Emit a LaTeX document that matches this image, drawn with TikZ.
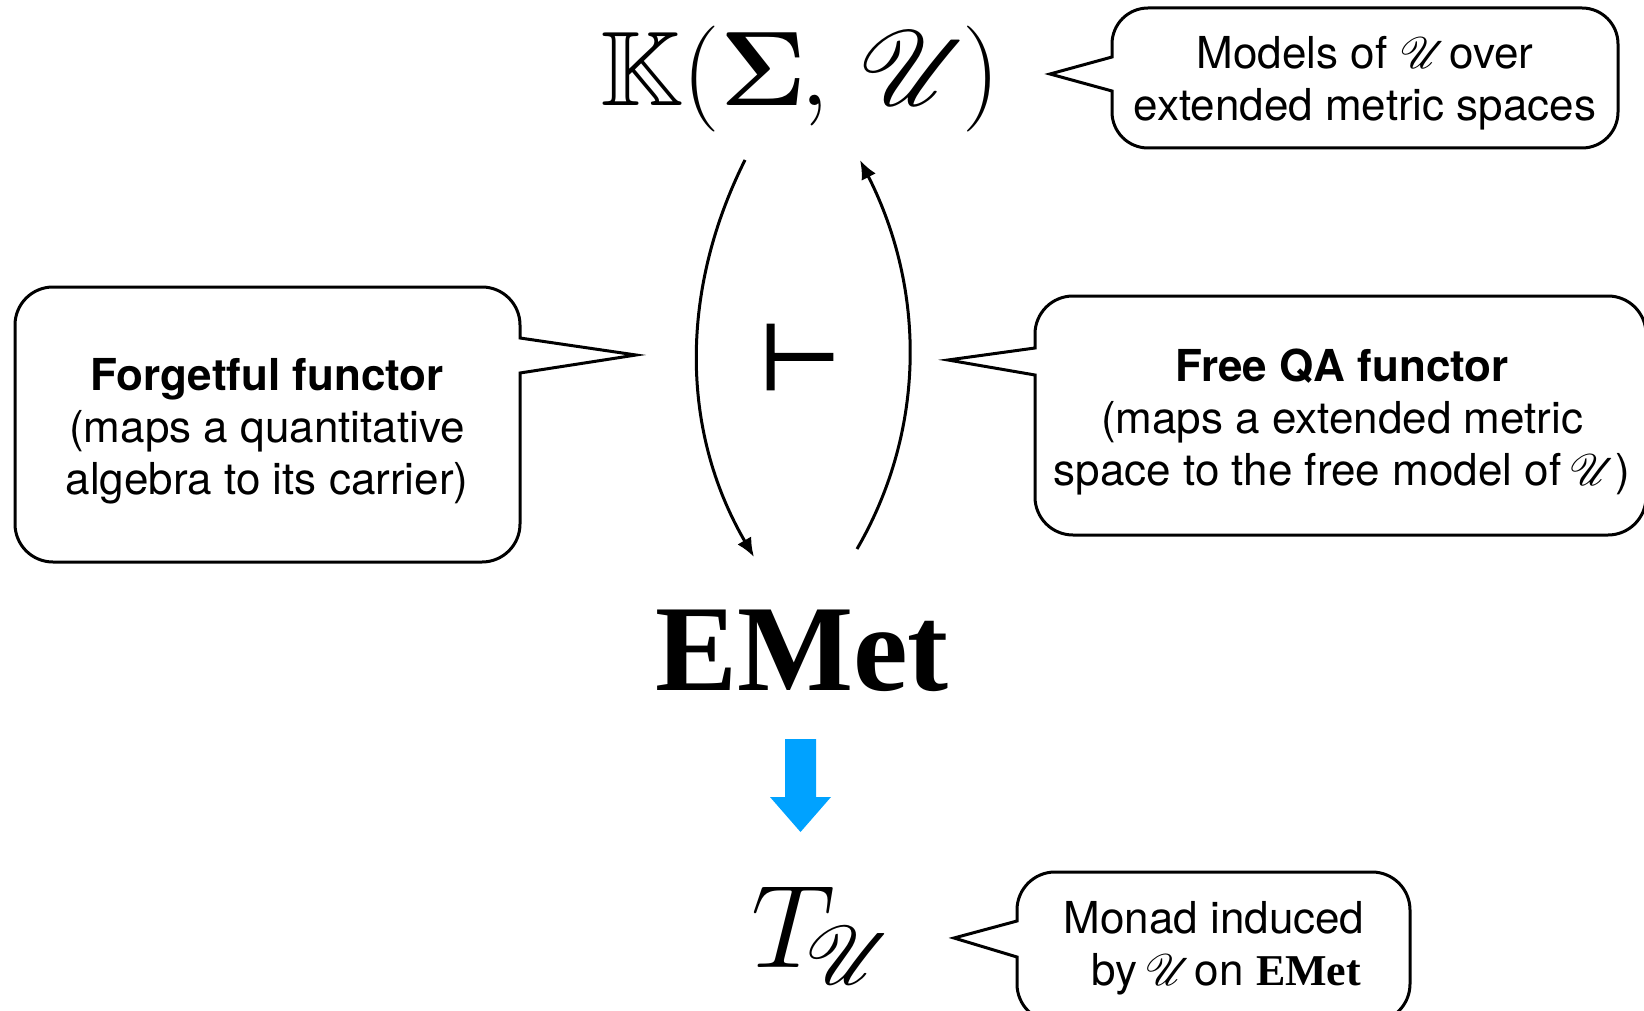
\documentclass[tikz,border=0pt]{standalone}
\usepackage{fix-cm}
\usepackage{amssymb}
\usepackage{mathrsfs}
\DeclareFontFamily{U}{rsfs}{\skewchar\font127 }
\DeclareFontShape{U}{rsfs}{m}{n}{<-> rsfs10}{}
\usepackage[no-math]{fontspec}
\setsansfont{TeX Gyre Heros}
\newfontfamily\timesfont{Liberation Serif}
\newfontfamily\djv[FakeBold=2.5]{DejaVu Sans}
\usetikzlibrary{arrows.meta}
\definecolor{azure}{RGB}{0,162,255}
\begin{document}
\begin{tikzpicture}[x=1pt,y=-1pt,
  callout/.style={draw=black,line width=3pt,line join=miter},
  note/.style={font=\sffamily\fontsize{44}{52}\selectfont,align=center,inner sep=0pt},
  adj/.style={line width=3pt,-{Latex[length=19pt,width=16pt]}},
  bigmath/.style={inner sep=0pt,anchor=base}]
\useasboundingbox (0,0) rectangle (1644,1011);
\clip (0,0) rectangle (1644,1011);

% main objects
\node[bigmath,font=\fontsize{106}{120}\selectfont] (K) at (800,106) {$\mathbb{K}(\mathbf{\Sigma}\mkern-1mu,\mkern2mu\mathscr{U}\mkern-1.5mu)$};
\node[bigmath,font=\timesfont\bfseries\fontsize{123}{130}\selectfont] (emet) at (802,690) {EMet};
\node[bigmath,font=\fontsize{118}{130}\selectfont] (T) at (822,967) {$T_{\!\mathscr{U}}$};
\node[inner sep=0pt,font=\djv\fontsize{92}{100}\selectfont] (adjsym) at (800,357) {⊢};

% adjunction arrows
\coordinate (a1) at (745,160);
\coordinate (a2) at (754,557);
\coordinate (b1) at (857,549);
\coordinate (b2) at (860,160);
\draw[adj] (a1) .. controls (680,290) and (680,430) .. (a2);
\draw[adj] (b1) .. controls (926,430) and (926,290) .. (b2);

% blue arrow
\fill[azure] (785,739) -- (816,739) -- (816,797) -- (831,797) -- (800.5,832) -- (770,797) -- (785,797) -- cycle;

% callouts (box L..R, T..B, pointer on left or right side)
\draw[callout] (1112,91) -- (1050,74) -- (1112,57) -- (1112,44)
  arc[start angle=180,end angle=270,radius=36] -- (1582,8)
  arc[start angle=270,end angle=360,radius=36] -- (1618,112)
  arc[start angle=0,end angle=90,radius=36] -- (1148,148)
  arc[start angle=90,end angle=180,radius=36] -- cycle;
\node[note] (n1) at (1365,83) {Models of $\mathscr{U}$\hspace{-0.2em} over\\extended metric spaces};

\draw[callout] (520,338) -- (636,355) -- (520,373) -- (520,524)
  arc[start angle=0,end angle=90,radius=38] -- (53,562)
  arc[start angle=90,end angle=180,radius=38] -- (15,325)
  arc[start angle=180,end angle=270,radius=38] -- (482,287)
  arc[start angle=270,end angle=360,radius=38] -- cycle;
\node[note] (n2) at (267,431) {\textbf{Forgetful functor}\\(maps a quantitative\\algebra to its carrier)};

\draw[callout] (1035,375) -- (948,360) -- (1035,348) -- (1035,334)
  arc[start angle=180,end angle=270,radius=38] -- (1608,296)
  arc[start angle=270,end angle=360,radius=38] -- (1646,497)
  arc[start angle=0,end angle=90,radius=38] -- (1073,535)
  arc[start angle=90,end angle=180,radius=38] -- cycle;
\node[note] (n3) at (1342,422) {\textbf{Free QA functor}\\(maps a extended metric\\space to the free model of\hspace{-0.1em} $\mathscr{U}$)};

\draw[callout] (1017,957) -- (954,938) -- (1017,921) -- (1017,910)
  arc[start angle=180,end angle=270,radius=38] -- (1372,872)
  arc[start angle=270,end angle=360,radius=38] -- (1410,984)
  arc[start angle=0,end angle=90,radius=38] -- (1055,1022)
  arc[start angle=90,end angle=180,radius=38] -- cycle;
\node[note] (n4) at (1214,948) {Monad induced\\\ \ by\hspace{-0.1em} $\mathscr{U}$\hspace{-0.2em} on {\timesfont\bfseries EMet}};
\end{tikzpicture}
\end{document}
